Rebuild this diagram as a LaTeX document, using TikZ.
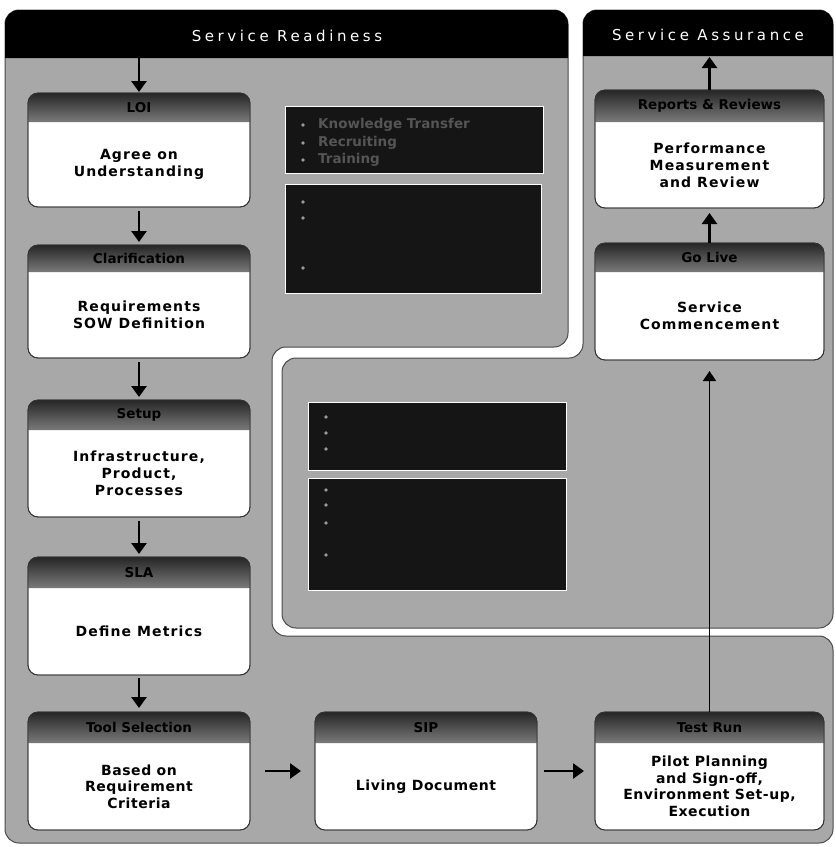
\documentclass[tikz,border=0pt]{standalone}
\usepackage{fontspec}
\setmainfont{DejaVu Sans}
\newfontfamily\spfont[LetterSpace=8]{DejaVu Sans}
\newfontfamily\rowfont[LetterSpace=4]{DejaVu Sans}
\newfontfamily\hdfont[LetterSpace=24]{DejaVu Sans}
\usetikzlibrary{arrows.meta}
\definecolor{panelgray}{HTML}{A8A8A8}
\definecolor{paneledge}{HTML}{4A4A4A}
\definecolor{boxedge}{HTML}{333333}
\definecolor{hdrtop}{HTML}{262626}
\definecolor{hdrbot}{HTML}{7A7A7A}
\definecolor{darkfill}{HTML}{151515}
\definecolor{dimtext}{HTML}{555555}
\definecolor{bulletc}{HTML}{9A9A9A}
\tikzset{
  panel/.style={fill=panelgray, draw=paneledge, line width=1pt, rounded corners=14pt},
  boxshape/.style={rectangle, rounded corners=10pt, fill=white, draw=boxedge, line width=0.8pt, inner sep=0pt, outer sep=0pt},
  hdrshade/.style={top color=hdrtop, bottom color=hdrbot},
  hdrtext/.style={font=\bfseries\fontsize{13.5}{15}\selectfont, text=black, inner sep=0pt},
  bodytext/.style={font=\spfont\bfseries\fontsize{14}{17}\selectfont, align=center, text=black, inner sep=0pt},
  rowtext/.style={font=\rowfont\bfseries\fontsize{14}{16.5}\selectfont, align=center, text=black, inner sep=0pt},
  titletext/.style={font=\hdfont\fontsize{15}{17}\selectfont, text=white, inner sep=0pt},
  darkbox/.style={rectangle, fill=darkfill, draw=white, line width=1pt, inner sep=0pt, outer sep=0pt},
  darktext/.style={font=\bfseries\fontsize{13.5}{15}\selectfont, text=dimtext, anchor=west, inner sep=0pt},
  arr/.style={line width=2.6pt, -{Triangle[width=15pt,length=11pt]}},
  thinarr/.style={line width=1.6pt, -{Triangle[width=13pt,length=10pt]}},
}
% #1 name, #2 x1, #3 ytop, #4 x2, #5 y header bottom, #6 ybottom, #7 header, #8 body, #9 body style
\newcommand\pbox[9]{%
  \node[boxshape, minimum width={#4-#2}, minimum height={#6-#3}] (#1) at ({(#2+#4)/2},{(#3+#6)/2}) {};
  \path[hdrshade] (#2,#5) {[rounded corners=10pt] -- (#2,#3) -- (#4,#3)} -- (#4,#5) -- cycle;
  \draw[boxedge, line width=0.8pt, rounded corners=10pt] (#1.north west) rectangle (#1.south east);
  \node[hdrtext] (#1-h) at ({(#2+#4)/2},{(#3+#5)/2}) {#7};
  \node[#9] (#1-b) at ({(#2+#4)/2},{(#5+#6)/2}) {#8};
}
\begin{document}
\begin{tikzpicture}[x=1pt,y=-1pt]
\useasboundingbox[fill=white] (0,0) rectangle (836,847);
% panels
\path[panel] (5,10) -- (568,10) -- (568,347) -- (272,347) -- (272,636) -- (833,636) -- (833,843) -- (5,843) -- cycle;
\path[panel] (583,10) -- (833,10) -- (833,628) -- (282,628) -- (282,358) -- (583,358) -- cycle;
% title bars
\fill[black] (5,58) {[rounded corners=14pt] -- (5,10) -- (568,10)} -- (568,58) -- cycle;
\fill[black] (583,56) {[rounded corners=14pt] -- (583,10) -- (833,10)} -- (833,56) -- cycle;
\node[titletext] (srt) at (287,36) {Service Readiness};
\node[titletext] (sat) at (708,35) {Service Assurance};
\coordinate (srbot) at (139,58);
\coordinate (sabot) at (709,57);
% dark boxes
\node[darkbox, minimum width=258, minimum height=67] (da) at (414,139.5) {};
\node[darkbox, minimum width=256, minimum height=109] (db) at (413,238.5) {};
\node[darkbox, minimum width=258, minimum height=68] (dc) at (437,436) {};
\node[darkbox, minimum width=258, minimum height=112] (dd) at (437,534) {};
\foreach \yy in {125,143,160,202,218,268} \fill[bulletc] (303,\yy) circle (1.8);
\foreach \yy in {417,433,449,490,505,523,555} \fill[bulletc] (326,\yy) circle (1.8);
\node[darktext] (ta1) at (318,125) {Knowledge Transfer};
\node[darktext] (ta2) at (318,143) {Recruiting};
\node[darktext] (ta3) at (318,160) {Training};
% process boxes
\pbox{b1}{28}{93}{250}{122}{207}{LOI}{Agree on\\Understanding}{bodytext}
\pbox{b2}{28}{245}{250}{272}{358}{Clarification}{Requirements\\SOW Definition}{bodytext}
\pbox{b3}{28}{400}{250}{430}{517}{Setup}{Infrastructure,\\Product,\\Processes}{bodytext}
\pbox{b4}{28}{557}{250}{588}{675}{SLA}{Define Metrics}{bodytext}
\pbox{b5}{28}{712}{250}{743}{830}{Tool Selection}{Based on\\Requirement\\Criteria}{rowtext}
\pbox{b6}{315}{712}{537}{743}{830}{SIP}{Living Document}{rowtext}
\pbox{b7}{595}{712}{824}{743}{830}{Test Run}{Pilot Planning\\and Sign-off,\\Environment Set-up,\\Execution}{rowtext}
\pbox{b8}{595}{243}{824}{272}{360}{Go Live}{Service\\Commencement}{bodytext}
\pbox{b9}{595}{90}{824}{122}{208}{Reports \& Reviews}{Performance\\Measurement\\and Review}{bodytext}
% connectors
\draw[arr, shorten >=1pt] (b1.north |- srbot) -- (b1.north);
\draw[arr, shorten <=4pt, shorten >=3pt] (b1) -- (b2);
\draw[arr, shorten <=4pt, shorten >=3pt] (b2) -- (b3);
\draw[arr, shorten <=4pt, shorten >=3pt] (b3) -- (b4);
\draw[arr, shorten <=3pt, shorten >=4pt] (b4) -- (b5);
\draw[arr, shorten <=15pt, shorten >=14pt] (b5) -- (b6);
\draw[arr, shorten <=7pt, shorten >=11pt] (b6) -- (b7);
\draw[thinarr, shorten >=11pt] (b7.north) -- (b8.south);
\draw[arr, shorten >=5pt] (b8) -- (b9);
\draw[arr] (b9.north) -- (b9.north |- sabot);
\end{tikzpicture}
\end{document}
